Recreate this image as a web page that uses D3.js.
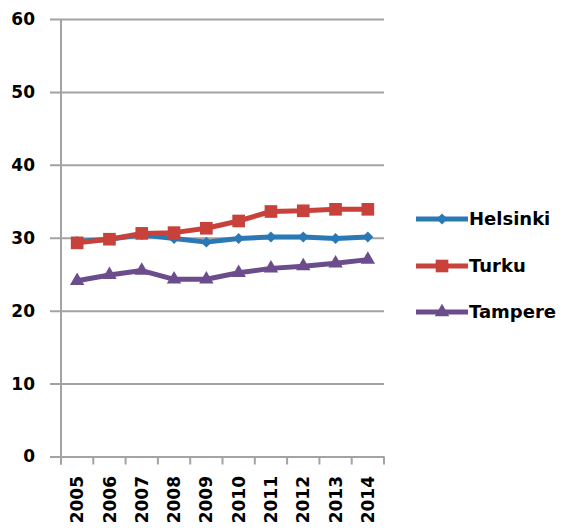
<!DOCTYPE html>
<html>
<head>
<meta charset="utf-8">
<script src="https://cdn.jsdelivr.net/npm/d3@7"></script>
<style>
  body { margin: 0; background: #fff; }
  text { font-family: "DejaVu Sans", sans-serif; font-weight: bold; fill: #000; }
</style>
</head>
<body>
<svg id="chart" width="566" height="530"></svg>
<script>
// data
var years = ["2005","2006","2007","2008","2009","2010","2011","2012","2013","2014"];
var helsinki = [29.5, 29.8, 30.4, 29.9, 29.4, 29.9, 30.1, 30.1, 29.9, 30.1];
var turku    = [29.3, 29.8, 30.6, 30.7, 31.3, 32.3, 33.6, 33.7, 33.9, 33.9];
var tampere  = [24.1, 24.9, 25.5, 24.3, 24.3, 25.2, 25.8, 26.1, 26.5, 27.0];
var yTicks = [0, 10, 20, 30, 40, 50, 60];

var series = [
  {name: "Helsinki", values: helsinki, color: "#2a78b4", marker: "diamond"},
  {name: "Turku",    values: turku,    color: "#c8413b", marker: "square"},
  {name: "Tampere",  values: tampere,  color: "#6b4c8c", marker: "triangle"}
];

var svg = d3.select("#chart");

var x = d3.scaleBand().domain(years).range([61, 384]).padding(0);
var y = d3.scaleLinear().domain([0, 60]).range([456.5, 19]);

var gridColor = "#a3a3a3";

// horizontal gridlines + y labels
var yAxis = d3.axisLeft(y).tickValues(yTicks).tickSize(-(384 - 50)).tickPadding(14);
var gy = svg.append("g").attr("transform", "translate(50,0)").call(yAxis);
gy.select(".domain").remove();
gy.selectAll(".tick line").attr("stroke", gridColor).attr("stroke-width", 2);
gy.selectAll(".tick text").attr("font-size", 17).attr("x", -15);

// vertical axis line
svg.append("line")
  .attr("x1", 61).attr("x2", 61)
  .attr("y1", y(60)).attr("y2", y(0) + 8)
  .attr("stroke", gridColor).attr("stroke-width", 2);

// x axis ticks at band edges
var edges = years.map(function(d) { return x(d); }).concat([x.range()[1]]);
svg.selectAll(".xtick").data(edges).enter().append("line")
  .attr("class", "xtick")
  .attr("x1", function(d) { return d; }).attr("x2", function(d) { return d; })
  .attr("y1", y(0)).attr("y2", y(0) + 8)
  .attr("stroke", gridColor).attr("stroke-width", 2);

svg.selectAll(".xlab").data(years).enter().append("text")
  .attr("class", "xlab")
  .attr("font-size", 17)
  .attr("text-anchor", "end")
  .attr("dy", "0.36em")
  .attr("transform", function(d) {
    return "translate(" + (x(d) + x.bandwidth() / 2) + ",476) rotate(-90)";
  })
  .text(function(d) { return d; });

// excel style diamond: a square turned 45 degrees
var squareDiamond = {
  draw: function(context, size) {
    var r = Math.sqrt(size / 2);
    context.moveTo(0, -r);
    context.lineTo(r, 0);
    context.lineTo(0, r);
    context.lineTo(-r, 0);
    context.closePath();
  }
};

var symbolFor = {
  diamond: d3.symbol().type(squareDiamond).size(60),
  square: d3.symbol().type(d3.symbolSquare).size(160),
  triangle: d3.symbol().type(d3.symbolTriangle).size(90)
};

var line = d3.line()
  .x(function(d, i) { return x(years[i]) + x.bandwidth() / 2; })
  .y(function(d) { return y(d); });

// draw Tampere, Helsinki, Turku so the red sits on top like the picture
[2, 0, 1].forEach(function(k) {
  var s = series[k];
  var g = svg.append("g");
  g.append("path")
    .attr("d", line(s.values))
    .attr("fill", "none")
    .attr("stroke", s.color)
    .attr("stroke-width", 5)
    .attr("stroke-linejoin", "round");
  g.selectAll("path.m").data(s.values).enter().append("path")
    .attr("class", "m")
    .attr("d", symbolFor[s.marker])
    .attr("fill", s.color)
    .attr("transform", function(d, i) {
      return "translate(" + (x(years[i]) + x.bandwidth() / 2) + "," + y(d) + ")";
    });
});

// legend
var legendY = [219, 266, 312];
var legend = svg.selectAll(".legend").data(series).enter().append("g")
  .attr("class", "legend")
  .attr("transform", function(d, i) { return "translate(0," + legendY[i] + ")"; });

legend.append("line")
  .attr("x1", 416).attr("x2", 468)
  .attr("stroke", function(d) { return d.color; })
  .attr("stroke-width", 5);
legend.append("path")
  .attr("d", function(d) { return symbolFor[d.marker](); })
  .attr("fill", function(d) { return d.color; })
  .attr("transform", "translate(442,0)");
legend.append("text")
  .attr("x", 469)
  .attr("dy", "0.36em")
  .attr("font-size", 18)
  .text(function(d) { return d.name; });
</script>
</body>
</html>
